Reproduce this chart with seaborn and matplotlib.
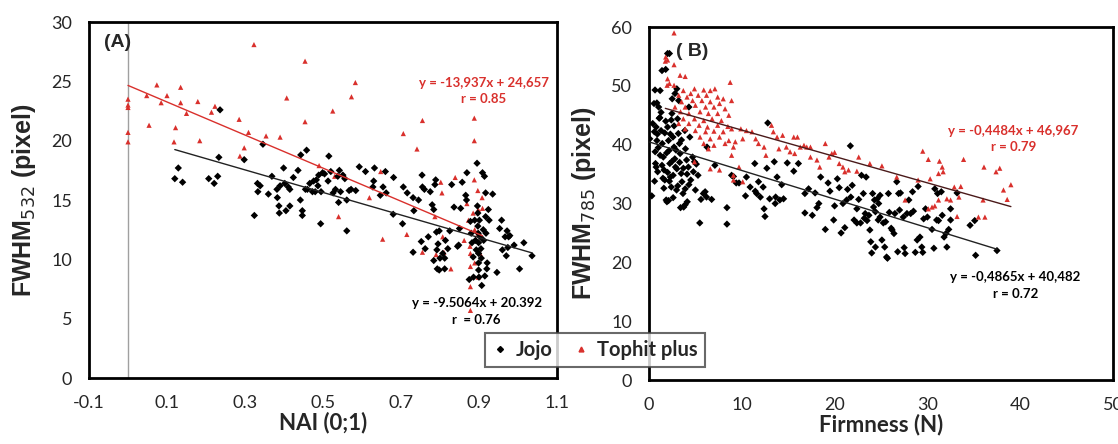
import matplotlib.pyplot as plt
from matplotlib.lines import Line2D
import numpy as np
import pandas as pd
import seaborn as sns

# Panel A: NAI vs FWHM532
a_jojo_x = [0.12, 0.129, 0.14, 0.207, 0.221, 0.23, 0.233, 0.236, 0.298, 0.324, 0.332, 0.333, 0.339, 0.346,
            0.36, 0.369, 0.382, 0.383, 0.387, 0.388, 0.39, 0.399, 0.402, 0.405, 0.411, 0.415, 0.415, 0.424,
            0.436, 0.442, 0.443, 0.447, 0.447, 0.455, 0.458, 0.46, 0.466, 0.473, 0.476, 0.483, 0.48, 0.487,
            0.489, 0.494, 0.495, 0.499, 0.504, 0.513, 0.515, 0.52, 0.526, 0.532, 0.538, 0.54, 0.542, 0.545,
            0.551, 0.556, 0.561, 0.561, 0.567, 0.572, 0.584, 0.593, 0.609, 0.628, 0.63, 0.632, 0.647, 0.654,
            0.66, 0.662, 0.68, 0.681, 0.704, 0.706, 0.716, 0.731, 0.731, 0.733, 0.745, 0.752, 0.754, 0.755,
            0.76, 0.762, 0.77, 0.775, 0.78, 0.784, 0.784, 0.787, 0.789, 0.791, 0.792, 0.793, 0.795, 0.798,
            0.798, 0.8, 0.807, 0.812, 0.812, 0.814, 0.82, 0.825, 0.83, 0.836, 0.845, 0.848, 0.85, 0.853,
            0.857, 0.866, 0.868, 0.869, 0.875, 0.878, 0.88, 0.882, 0.885, 0.886, 0.889, 0.891, 0.893, 0.895,
            0.896, 0.897, 0.897, 0.898, 0.899, 0.899, 0.899, 0.899, 0.9, 0.901, 0.903, 0.905, 0.906, 0.907,
            0.909, 0.911, 0.912, 0.914, 0.915, 0.917, 0.917, 0.918, 0.92, 0.921, 0.924, 0.926, 0.935, 0.946,
            0.953, 0.958, 0.96, 0.967, 0.97, 0.972, 0.974, 0.976, 0.979, 0.99, 1.004, 1.015, 1.036]
a_jojo_y = [16.8, 17.7, 16.5, 16.8, 16.4, 17.0, 18.6, 22.6, 18.4, 13.7, 16.4, 15.7, 16.2, 19.7,
            15.5, 17.0, 15.9, 15.2, 14.5, 13.9, 16.2, 17.7, 16.4, 14.1, 16.1, 15.9, 14.5, 16.9,
            17.5, 15.0, 18.8, 14.1, 13.7, 15.9, 19.2, 15.9, 16.4, 15.7, 16.6, 16.7, 15.7, 16.2,
            17.1, 13.0, 15.7, 17.3, 17.2, 16.6, 18.7, 17.4, 15.6, 15.9, 17.0, 14.8, 17.5, 15.7,
            17.1, 16.8, 15.0, 12.4, 15.8, 15.9, 15.8, 17.8, 17.4, 16.1, 16.6, 17.7, 15.4, 16.1,
            17.4, 15.6, 13.8, 16.9, 13.0, 16.1, 15.6, 15.2, 10.6, 14.1, 15.0, 11.5, 17.1, 16.1,
            15.9, 10.9, 11.9, 15.7, 14.6, 14.2, 9.9, 16.3, 16.7, 12.3, 10.8, 9.2, 11.3, 12.4,
            9.1, 10.1, 10.5, 9.2, 10.1, 11.6, 10.9, 12.4, 16.3, 14.4, 11.1, 11.2, 12.6, 14.3,
            16.5, 15.4, 15.0, 17.3, 8.3, 13.2, 12.2, 11.4, 10.2, 8.5, 13.3, 11.6, 10.8, 18.1,
            14.5, 13.9, 12.8, 12.2, 11.4, 10.5, 9.7, 9.1, 8.5, 13.3, 11.9, 10.9, 10.1, 7.8,
            17.3, 12.5, 11.6, 17.0, 8.6, 15.6, 13.6, 12.2, 9.2, 9.7, 14.2, 13.3, 15.5, 8.9,
            12.6, 13.3, 10.8, 11.9, 10.3, 12.4, 11.0, 11.9, 12.0, 11.2, 9.2, 11.4, 10.3]
a_top_x = [0.0, 0.0, 0.0, 0.0, 0.0, 0.048, 0.054, 0.074, 0.085, 0.10, 0.118, 0.122, 0.135, 0.135, 0.15,
           0.179, 0.184, 0.214, 0.223, 0.285, 0.287, 0.298, 0.309, 0.323, 0.354, 0.39, 0.407, 0.454,
           0.454, 0.49, 0.525, 0.53, 0.54, 0.573, 0.583, 0.619, 0.648, 0.653, 0.706, 0.715, 0.741,
           0.755, 0.755, 0.787, 0.79, 0.802, 0.805, 0.807, 0.81, 0.828, 0.839, 0.862, 0.869, 0.873,
           0.877, 0.878, 0.878, 0.878, 0.878, 0.888, 0.888, 0.888, 0.885, 0.889, 0.889, 0.897, 0.898,
           0.898, 0.898, 0.908, 0.909, 0.903]
a_top_y = [23.5, 23.0, 22.8, 20.7, 19.9, 23.8, 21.3, 24.7, 23.2, 23.8, 19.9, 21.1, 24.5, 23.2, 22.3,
           23.3, 20.0, 22.4, 22.9, 21.8, 18.7, 19.4, 20.7, 28.1, 20.4, 20.3, 23.6, 26.7,
           21.6, 17.9, 22.5, 17.0, 13.6, 23.7, 24.9, 15.2, 17.4, 11.7, 20.6, 12.1, 19.3,
           21.7, 10.6, 13.6, 10.4, 16.5, 15.6, 11.9, 10.6, 9.2, 16.9, 11.6, 14.7, 13.3,
           11.1, 10.5, 9.4, 7.7, 5.7, 21.9, 20.0, 16.7, 13.9, 12.5, 9.7, 15.8, 14.2,
           12.2, 8.5, 15.2, 14.3, 10.5]
a_jojo_fit = (-9.5064, 20.392)
a_top_fit = (-13.937, 24.657)

# Panel B: Firmness vs FWHM785
b_jojo_x = [2.0, 2.2, 1.4, 1.8, 0.65, 1.2, 3.0, 2.8, 0.54, 0.85, 1.04, 2.5, 3.2, 4.3, 0.08, 0.4, 0.58, 0.77,
            0.85, 0.66, 0.77, 0.93, 1.16, 1.3, 1.43, 1.54, 1.62, 1.7, 1.85, 1.93, 2.0, 2.1, 2.16, 2.24, 2.3,
            2.4, 2.47, 2.58, 2.7, 2.78, 2.85, 2.97, 3.08, 3.16, 3.28, 3.35, 3.47, 3.55, 3.66, 3.74, 3.86,
            3.93, 4.05, 4.12, 4.24, 4.4, 4.5, 4.7, 4.78, 4.9, 5.0, 5.1, 5.28, 5.47, 5.6, 5.86, 6.05, 6.2,
            6.25, 6.75, 7.1, 8.4, 8.4, 8.9, 9.1, 9.4, 9.7, 10.4, 10.5, 10.9, 11.4, 11.45, 11.6, 11.8, 12.0,
            12.3, 12.4, 12.5, 12.7, 12.8, 13.0, 13.5, 13.6, 13.65, 13.8, 14.1, 14.3, 14.5, 14.9, 15.6,
            16.1, 16.8, 16.8, 17.2, 17.6, 17.9, 18.1, 18.3, 18.5, 19.0, 19.3, 19.5, 19.9, 20.0, 20.3,
            20.5, 20.7, 20.9, 21.1, 21.3, 21.4, 21.7, 21.75, 21.9, 22.1, 22.4, 22.4, 22.6, 22.8, 22.9,
            23.1, 23.2, 23.3, 23.4, 23.5, 23.7, 23.8, 23.9, 24.0, 24.1, 24.2, 24.3, 24.4, 24.4, 24.6,
            24.7, 24.75, 24.9, 24.9, 25.1, 25.25, 25.4, 25.5, 25.6, 25.7, 25.8, 25.9, 26.1, 26.2, 26.4,
            26.5, 26.7, 26.8, 26.9, 27.0, 27.1, 27.4, 27.5, 27.6, 27.8, 28.0, 28.2, 28.4, 28.5, 28.7,
            28.9, 29.0, 29.2, 29.4, 29.5, 29.6, 29.8, 30.0, 30.5, 30.7, 30.8, 31.0, 31.1, 31.2, 31.5,
            31.6, 31.8, 32.0, 32.1, 32.3, 32.5, 32.5, 33.2, 34.6, 35.1, 35.2, 37.5,
            0.3, 1.0, 1.2, 1.4, 1.5, 1.7, 1.9, 2.0, 2.2, 2.3, 2.5, 2.6, 2.7, 2.9, 3.0, 3.1, 3.3, 3.5,
            3.7, 3.9, 4.1, 4.3, 1.1, 1.3, 0.9, 1.8, 2.4, 2.1, 2.6, 3.4, 3.9, 1.6, 0.6, 0.7]
b_jojo_y = [55.5, 55.5, 52.6, 52.8, 49.3, 49.2, 49.5, 48.7, 47.0, 47.1, 46.4, 47.8, 47.5, 46.4, 41.0, 43.6,
            42.2, 43.0, 40.7, 38.8, 36.2, 35.4, 44.6, 42.4, 40.2, 37.9, 35.7, 34.0, 30.6, 30.3, 43.0,
            40.7, 39.0, 36.8, 34.5, 32.8, 45.3, 41.3, 39.6, 37.6, 36.2, 32.3, 44.4, 41.9, 40.2, 38.5,
            35.1, 33.7, 31.7, 29.4, 42.4, 39.3, 37.4, 30.3, 36.2, 41.3, 34.0, 37.9, 35.4, 37.1, 32.3,
            36.7, 34.8, 26.7, 30.7, 31.7, 32.0, 31.1, 39.6, 30.7, 36.5, 26.5, 29.3, 34.8, 34.6, 33.5,
            33.5, 31.3, 34.5, 32.8, 36.8, 32.1, 31.7, 33.7, 31.1, 32.8, 29.1, 27.8, 36.0, 43.7, 30.8,
            37.1, 30.0, 31.1, 34.5, 30.6, 33.2, 30.8, 36.9, 35.5, 36.8, 28.4, 31.7, 32.5, 28.0, 31.8,
            29.3, 30.0, 34.5, 25.6, 33.5, 32.1, 27.2, 29.6, 34.2, 32.7, 25.0, 30.0, 25.9, 30.6, 32.4,
            39.8, 31.1, 33.1, 27.2, 29.1, 26.7, 30.7, 26.7, 34.8, 31.7, 27.5, 28.3, 34.5, 27.1, 28.0,
            25.5, 23.5, 21.6, 31.7, 29.4, 30.6, 28.6, 22.6, 30.8, 27.2, 30.0, 31.4, 27.7, 23.8, 26.7,
            22.6, 26.9, 20.9, 20.7, 31.7, 28.5, 25.8, 25.5, 24.9, 28.3, 33.7, 21.8, 31.7, 28.9, 31.8,
            27.7, 22.5, 21.5, 28.3, 30.6, 28.3, 32.0, 28.7, 21.7, 23.8, 32.9, 24.3, 22.6, 21.7, 27.4,
            29.1, 27.7, 25.6, 22.4, 32.5, 27.2, 31.7, 27.1, 32.0, 28.0, 24.3, 24.9, 22.6, 25.6, 27.2,
            29.1, 31.8, 26.3, 27.1, 21.2, 22.0,
            31.3, 39.5, 38.2, 36.5, 34.3, 42.0, 38.6, 35.3, 33.8, 41.8, 37.2, 34.8, 43.2, 39.1, 35.9,
            33.0, 37.0, 40.8, 36.0, 32.5, 35.0, 33.2, 44.5, 45.5, 41.8, 44.0, 44.2, 30.5, 31.0, 29.3,
            29.8, 32.6, 33.8, 36.8]
b_top_x = [2.7, 1.8, 2.0, 1.76, 2.7, 2.0, 3.35, 3.9, 2.2, 1.95, 2.7, 8.75, 3.7, 4.9, 5.9, 7.1, 6.6,
           3.2, 4.1, 4.5, 5.3, 6.2, 7.4, 8.0, 8.9, 3.5, 4.7, 5.7, 6.6, 7.6, 2.8, 3.9, 5.0, 6.1, 7.0,
           8.2, 3.4, 4.3, 5.5, 6.4, 7.4, 8.6, 3.7, 4.9, 5.9, 6.8, 7.8, 3.2, 4.3, 5.4, 6.3, 7.4, 8.5,
           3.9, 5.0, 6.1, 7.0, 8.0, 8.9, 5.5, 6.6, 7.6, 8.6, 5.9, 7.0, 8.2, 9.1, 6.4, 8.9, 4.9, 6.6,
           7.6, 9.1, 9.1, 9.7, 10.1, 9.9, 10.5, 11.1, 10.1, 9.3, 11.5, 11.8, 12.4, 12.6, 13.2, 13.4,
           13.8, 14.0, 14.4, 14.8, 15.2, 15.6, 16.0, 15.7, 16.3, 16.7, 17.0, 17.4, 17.4, 18.1, 18.4,
           19.0, 19.4, 19.7, 20.0, 20.5, 20.9, 21.1, 21.5, 22.4, 22.6, 23.8, 25.1, 26.7, 27.6, 29.0,
           29.5, 30.1, 30.3, 30.1, 30.5, 30.8, 31.2, 31.3, 31.6, 31.7, 31.2, 32.1, 32.5, 32.9, 33.2,
           33.4, 33.6, 33.9, 35.5, 36.0, 36.2, 36.1, 37.4, 37.8, 38.2, 38.6, 39.0]
b_top_y = [59.0, 54.9, 54.4, 54.2, 53.6, 51.2, 51.8, 51.6, 50.4, 50.1, 50.1, 50.6, 49.2, 49.5, 49.3,
           49.5, 49.2, 48.4, 48.1, 48.7, 48.4, 48.4, 48.1, 47.8, 47.5, 47.3, 47.5, 47.5, 47.3, 47.0,
           46.4, 46.4, 46.7, 46.4, 46.4, 46.1, 45.6, 45.3, 45.6, 45.3, 45.3, 45.0, 44.4, 44.4, 44.1,
           44.4, 44.1, 43.6, 43.6, 43.3, 43.0, 43.3, 43.1, 42.7, 42.4, 42.2, 42.3, 42.2, 42.7, 41.3,
           41.0, 41.3, 40.7, 40.2, 39.9, 40.2, 39.6, 39.3, 38.2, 37.1, 35.9, 35.7, 34.0, 34.8, 36.2,
           33.7, 42.7, 42.4, 42.2, 41.0, 40.5, 41.0, 40.2, 39.6, 38.2, 43.3, 42.2, 41.3, 39.3, 41.6,
           39.6, 38.8, 41.3, 41.3, 38.5, 39.6, 39.9, 39.6, 37.9, 39.6, 37.4, 36.2, 40.2, 37.9, 38.5,
           38.7, 36.8, 36.2, 35.4, 35.7, 35.5, 37.9, 36.8, 36.4, 34.5, 30.6, 34.0, 38.9, 37.5, 34.2,
           29.1, 29.4, 29.6, 30.6, 37.2, 36.2, 35.4, 35.1, 30.8, 30.6, 32.8, 27.8, 31.1, 32.9, 37.5,
           27.7, 30.6, 27.7, 36.2, 35.4, 36.0, 32.3, 30.7, 33.2]
b_jojo_fit = (-0.4865, 40.482)
b_top_fit = (-0.4484, 46.967)

RED = '#d9302c'
LABEL_FONT = ['Lato', 'DejaVu Sans']
ARIAL = ['Liberation Sans', 'DejaVu Sans']


def panel_df(jojo_x, jojo_y, top_x, top_y, top_first):
    jojo = pd.DataFrame({'x': jojo_x, 'y': jojo_y, 'cultivar': 'Jojo'})
    top = pd.DataFrame({'x': top_x, 'y': top_y, 'cultivar': 'Tophit plus'})
    parts = [top, jojo] if top_first else [jojo, top]
    return pd.concat(parts, ignore_index=True)


def draw_fit(ax, xs, fit, color):
    x = np.linspace(min(xs), max(xs), 2)
    ax.plot(x, fit[0] * x + fit[1], color=color, lw=1.0, zorder=3)


def style_axes(ax):
    for s in ax.spines.values():
        s.set_linewidth(2.0)
        s.set_color('black')
    ax.tick_params(axis='both', labelsize=13, length=4, width=1, color='gray', pad=8)
    for lab in ax.get_xticklabels() + ax.get_yticklabels():
        lab.set_family(LABEL_FONT)


def equation(ax, x, y, txt, color):
    ax.text(x, y, txt, color=color, fontsize=9.5, fontweight='bold', ha='center', va='center',
            family=LABEL_FONT)


sns.set_style('white')
plt.rcParams['font.family'] = LABEL_FONT

fig = plt.figure(figsize=(11.18, 4.44), dpi=100)
ax1 = fig.add_axes([0.0796, 0.1486, 0.4186, 0.8018])
ax2 = fig.add_axes([0.5805, 0.1441, 0.415, 0.795])

markers = {'Jojo': 'D', 'Tophit plus': '^'}
palette = {'Jojo': 'black', 'Tophit plus': RED}

# Panel A
dfa = panel_df(a_jojo_x, a_jojo_y, a_top_x, a_top_y, top_first=True)
ax1.axvline(0, color='#a0a0a0', lw=1.0, zorder=1)
sns.scatterplot(data=dfa, x='x', y='y', hue='cultivar', style='cultivar', markers=markers,
                palette=palette, s=14, linewidth=0, legend=False, ax=ax1, zorder=2)
draw_fit(ax1, a_top_x, a_top_fit, RED)
draw_fit(ax1, a_jojo_x, a_jojo_fit, '#222222')
ax1.set_xlim(-0.1, 1.1)
ax1.set_ylim(0, 30)
ax1.set_xticks([-0.1, 0.1, 0.3, 0.5, 0.7, 0.9, 1.1])
ax1.set_xticklabels(['-0.1', '0.1', '0.3', '0.5', '0.7', '0.9', '1.1'])
ax1.set_yticks(range(0, 31, 5))
ax1.set_xlabel('NAI (0;1)', fontsize=16, fontweight='bold', family=LABEL_FONT, labelpad=1)
ax1.set_ylabel('FWHM$_{532}$ (pixel)', fontsize=18, fontweight='bold', family=ARIAL, labelpad=10)
style_axes(ax1)
ax1.text(-0.027, 28.3, '(A)', fontsize=14, fontweight='bold', ha='center', va='center', family=ARIAL)
equation(ax1, 0.912, 24.9, 'y = -13,937x + 24,657', RED)
equation(ax1, 0.912, 23.5, 'r = 0.85', RED)
equation(ax1, 0.894, 6.3, 'y = -9.5064x + 20.392', 'black')
equation(ax1, 0.894, 4.9, 'r  = 0.76', 'black')

# Panel B
dfb = panel_df(b_jojo_x, b_jojo_y, b_top_x, b_top_y, top_first=False)
sns.scatterplot(data=dfb, x='x', y='y', hue='cultivar', style='cultivar', markers=markers,
                palette=palette, s=14, linewidth=0, legend=False, ax=ax2, zorder=2)
draw_fit(ax2, b_top_x, b_top_fit, '#4a1a1a')
draw_fit(ax2, b_jojo_x, b_jojo_fit, '#222222')
ax2.set_xlim(0, 50)
ax2.set_ylim(0, 60)
ax2.set_xticks(range(0, 51, 10))
ax2.set_yticks(range(0, 61, 10))
ax2.set_xlabel('Firmness (N)', fontsize=16, fontweight='bold', family=LABEL_FONT, labelpad=1)
ax2.set_ylabel('FWHM$_{785}$ (pixel)', fontsize=18, fontweight='bold', family=ARIAL, labelpad=10)
style_axes(ax2)
ax2.text(4.7, 55.9, '( B)', fontsize=14, fontweight='bold', ha='center', va='center', family=ARIAL)
equation(ax2, 39.3, 42.4, 'y = -0,4484x + 46,967', RED)
equation(ax2, 39.3, 39.6, 'r = 0.79', RED)
equation(ax2, 39.5, 17.5, 'y = -0,4865x + 40,482', 'black')
equation(ax2, 39.5, 14.7, 'r = 0.72', 'black')

# shared legend in the middle
handles = [Line2D([], [], marker='D', color='black', ls='none', markersize=3),
           Line2D([], [], marker='^', color=RED, ls='none', markersize=3.5)]
leg = fig.legend(handles, ['Jojo', 'Tophit plus'], loc='center', bbox_to_anchor=(0.532, 0.211),
                 ncol=2, frameon=True, fancybox=False, handlelength=0.8, handletextpad=0.4,
                 columnspacing=1.0, borderpad=0.35,
                 prop={'family': LABEL_FONT, 'weight': 'bold', 'size': 14.5})
leg.get_frame().set_edgecolor('#444444')
leg.get_frame().set_linewidth(1.5)
leg.set_zorder(10)

fig.savefig('out.png', dpi=100)
